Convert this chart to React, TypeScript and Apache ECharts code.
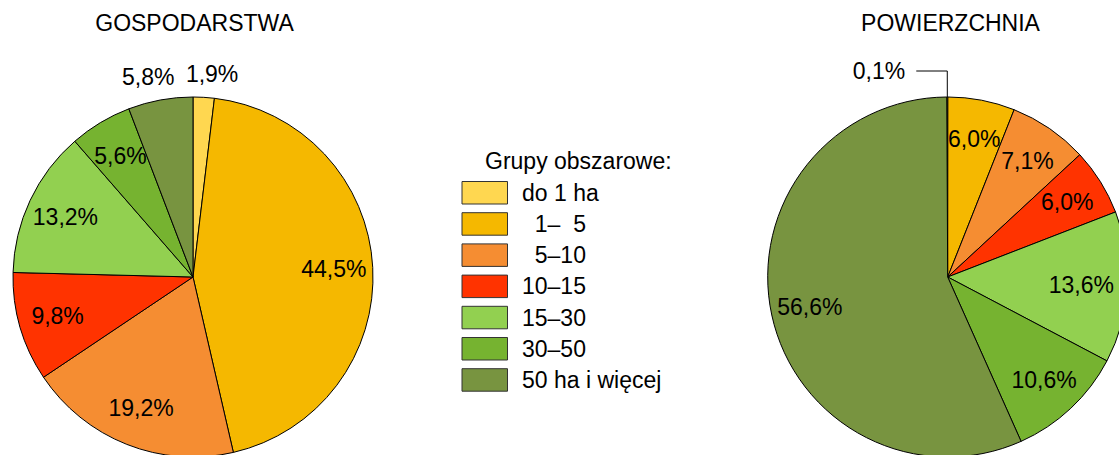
import React, { useEffect, useRef } from "react";
import * as echarts from "echarts";

// ---- data ----
const categories = ["do 1 ha", "1–5", "5–10", "10–15", "15–30", "30–50", "50 ha i więcej"];
const legendLabels = ["do 1 ha", "\u20071–\u20075", "\u20075–10", "10–15", "15–30", "30–50", "50 ha i więcej"];
const farmsShare = [1.9, 44.5, 19.2, 9.8, 13.2, 5.6, 5.8]; // GOSPODARSTWA, %
const areaShare = [0.1, 6.0, 7.1, 6.0, 13.6, 10.6, 56.6]; // POWIERZCHNIA, %
const colors = ["#FFD750", "#F5B800", "#F58D32", "#FF3300", "#92D050", "#76B330", "#789440"];
const chartTitles = ["GOSPODARSTWA", "POWIERZCHNIA"];
const legendTitle = "Grupy obszarowe:";
// label placement per slice
const farmsAbove = ["do 1 ha", "50 ha i więcej"]; // above the pie, no leader line
const areaLeader = ["do 1 ha"]; // outside with a leader line

const FONT = "'Liberation Sans', Arial, Helvetica, sans-serif";
const FS = 23;
const R = 180;
const LEFT_C = [193, 277];
const RIGHT_C = [947.7, 277];
const VIEW_W = 1119;

const fmt = (p: any) => `${Number(p.value).toFixed(1).replace(".", ",")}%`;

const labelText = { color: "#000", fontFamily: FONT, fontSize: FS };
const leaderLine = {
  show: true,
  showAbove: true,
  length: 26,
  length2: 31,
  minTurnAngle: 0,
  lineStyle: { color: "#000", width: 1, opacity: 1 },
};

function mainSeries(values: number[], center: number[], startAngle: number, leader: string[]) {
  return {
    type: "pie",
    center,
    radius: R,
    startAngle,
    clockwise: true,
    avoidLabelOverlap: false,
    itemStyle: { borderColor: "#000", borderWidth: 1 },
    emphasis: { disabled: true },
    label: { show: false, position: "outside", formatter: fmt, distanceToLabelLine: 11, ...labelText },
    labelLine: leaderLine,
    data: categories.map((name, i) => ({
      name,
      value: values[i],
      itemStyle: { color: colors[i] },
      label: { show: leader.includes(name) },
      labelLine: leader.includes(name) ? leaderLine : { show: false },
    })),
  };
}

function labelSeries(values: number[], center: number[], startAngle: number, radius: number[], shown: (n: string) => boolean, extra: any = {}) {
  return {
    type: "pie",
    center,
    radius,
    startAngle,
    clockwise: true,
    silent: true,
    avoidLabelOverlap: false,
    itemStyle: { color: "transparent", borderWidth: 0 },
    emphasis: { disabled: true },
    label: { show: false, position: "inside", formatter: fmt, ...labelText },
    labelLine: { show: false },
    data: categories.map((name, i) => ({
      name,
      value: values[i],
      label: { show: shown(name) },
    })),
    ...extra,
  };
}

export default function App() {
  const ref = useRef<HTMLDivElement>(null);
  useEffect(() => {
    if (!ref.current) return;
    const chart = echarts.init(ref.current, null, { renderer: "svg" });
    const leftStart = 90;
    const rightStart = 90.3;
    chart.setOption({
      animation: false,
      backgroundColor: "#fff",
      legend: {
        orient: "vertical",
        left: 461.5,
        top: 181,
        padding: 0,
        itemWidth: 45.5,
        itemHeight: 22.5,
        itemGap: 7.7,
        icon: "rect",
        selectedMode: false,
        data: categories,
        itemStyle: { borderColor: "#333", borderWidth: 1 },
        formatter: (name: string) => legendLabels[categories.indexOf(name)],
        textStyle: { ...labelText, lineHeight: 22, padding: [0, 0, 0, 9.5] },
      },
      graphic: [
        { type: "text", x: 194.5, y: 22.5, style: { text: chartTitles[0], font: `${FS}px ${FONT}`, fill: "#000", align: "center", verticalAlign: "middle" } },
        { type: "text", x: 950.5, y: 22.5, style: { text: chartTitles[1], font: `${FS}px ${FONT}`, fill: "#000", align: "center", verticalAlign: "middle" } },
        { type: "text", x: 485, y: 160.5, style: { text: legendTitle, font: `${FS}px ${FONT}`, fill: "#000", align: "left", verticalAlign: "middle" } },
      ],
      series: [
        mainSeries(farmsShare, LEFT_C, leftStart, []),
        mainSeries(areaShare, RIGHT_C, rightStart, areaLeader),
        labelSeries(farmsShare, LEFT_C, leftStart, [96, R], (n) => !farmsAbove.includes(n)),
        labelSeries(areaShare, RIGHT_C, rightStart, [96, R], (n) => !areaLeader.includes(n), {
          labelLayout: (p: any) => {
            const right = p.labelRect.x + p.labelRect.width;
            return right > VIEW_W - 5 ? { dx: VIEW_W - 5 - right } : {};
          },
        }),
        labelSeries(farmsShare, LEFT_C, leftStart, [R, 220], (n) => farmsAbove.includes(n), {
          labelLayout: (p: any) => {
            const mid = p.labelRect.x + p.labelRect.width / 2;
            return { dx: mid < LEFT_C[0] ? -8 : 7 };
          },
        }),
      ],
    });
    return () => chart.dispose();
  }, []);
  return (
    <div
      ref={ref}
      style={{ position: "absolute", left: 0, top: 0, width: 1119, height: 455, background: "#fff" }}
    />
  );
}
